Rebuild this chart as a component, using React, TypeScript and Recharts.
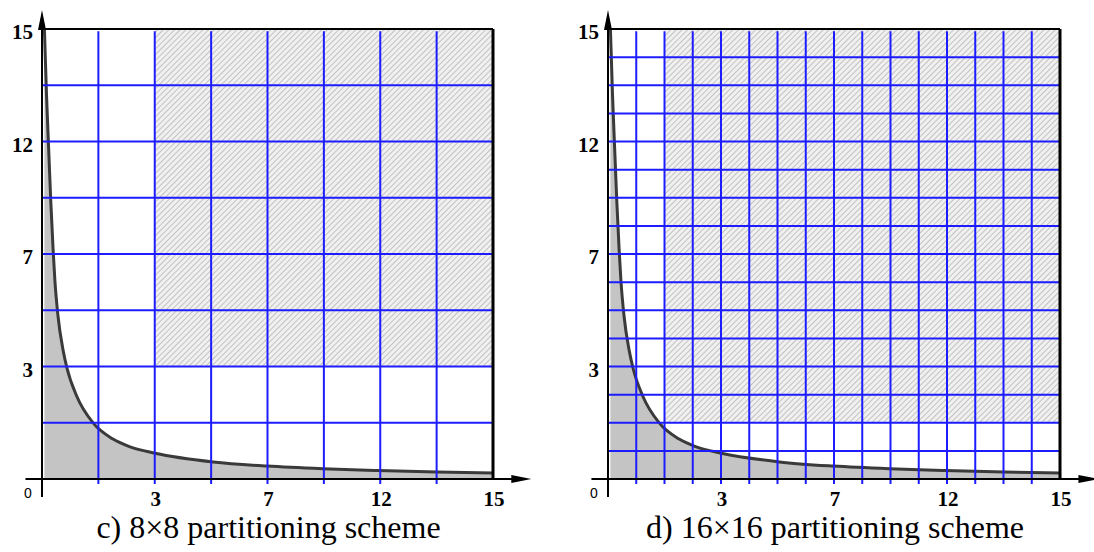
import React from 'react';
import { ComposedChart, Area, XAxis, YAxis, ReferenceLine, ReferenceArea } from 'recharts';

// ---- data ----
const axisMax = 15;
const curveX = [0.08, 0.15, 0.23, 0.29, 0.37, 0.43, 0.53, 0.7, 0.83, 1.16, 1.7, 2.36, 2.93, 3.76, 5.69, 7.48, 9.34, 11.17, 13.14, 15];
const curveY = [15, 12.8, 10.8, 9.3, 7.63, 6.6, 5.45, 4.3, 3.7, 2.75, 1.87, 1.33, 1.07, 0.86, 0.57, 0.43, 0.34, 0.28, 0.23, 0.2];
const xTickPositions = [0, 3.75, 7.5, 11.25, 15];
const xTickLabels = ['0', '3', '7', '12', '15'];
const yTickPositions = [3.75, 7.5, 11.25, 15];
const yTickLabels = ['3', '7', '12', '15'];
const partitionCounts = [8, 16];
const hatchStartCells = [2, 2];
const captions = ['c) 8×8 partitioning scheme', 'd) 16×16 partitioning scheme'];

const curveData = curveX.map((x, i) => ({ x, y: curveY[i] }));

// ---- layout ----
const PANEL_W = 547;
const H = 552;
const layouts = [
  { left: 0, marginLeft: 0, marginRight: 54 },
  { left: 547, marginLeft: 19, marginRight: 34 },
];
const Y_AXIS_W = 42;
const PLOT_TOP = 29;
const PLOT_BOTTOM = 479;
const X_AXIS_H = 30;

const BLUE = '#1c1cff';
const SERIF = 'Liberation Serif';
const SANS = 'Liberation Sans';

const XTick = (props: any) => {
  const { x, y, index } = props;
  if (index === 0) {
    return (
      <text x={x - 14} y={y + 19} textAnchor="middle" fontFamily={SANS} fontSize={14} fill="#000">
        {xTickLabels[0]}
      </text>
    );
  }
  return (
    <text x={x + 1} y={y + 27} textAnchor="middle" fontFamily={SERIF} fontWeight="bold" fontSize={21} fill="#000">
      {xTickLabels[index]}
    </text>
  );
};

const YTick = (props: any) => {
  const { x, y, index } = props;
  return (
    <text x={x - 9} y={y + 10} textAnchor="end" fontFamily={SERIF} fontWeight="bold" fontSize={21} fill="#000">
      {yTickLabels[index]}
    </text>
  );
};

const xArrow = (props: any) => {
  const { x1, y1, x2, y2 } = props;
  return (
    <g>
      <line x1={x1} y1={y1} x2={x2 - 8} y2={y2} stroke="#000" strokeWidth={2} />
      <polygon points={`${x2},${y2} ${x2 - 20},${y2 - 4} ${x2 - 20},${y2 + 4}`} fill="#000" />
    </g>
  );
};

const yArrow = (props: any) => {
  const { x1, y1, x2, y2 } = props;
  return (
    <g>
      <line x1={x1} y1={y1} x2={x2} y2={y2 + 8} stroke="#000" strokeWidth={2} />
      <polygon points={`${x2},${y2} ${x2 - 4},${y2 + 20} ${x2 + 4},${y2 + 20}`} fill="#000" />
    </g>
  );
};

const Panel = ({ idx }: { idx: number }) => {
  const n = partitionCounts[idx];
  const step = axisMax / n;
  const bounds = Array.from({ length: n - 1 }, (_, k) => (k + 1) * step);
  const hatchFrom = hatchStartCells[idx] * step;
  const lay = layouts[idx];
  const pid = `hatch${idx}`;
  return (
    <ComposedChart
      width={PANEL_W}
      height={H}
      data={curveData}
      margin={{ top: PLOT_TOP, right: lay.marginRight, bottom: H - PLOT_BOTTOM - X_AXIS_H, left: lay.marginLeft }}
      style={{ overflow: 'visible' }}
    >
      <defs>
        <pattern id={pid} patternUnits="userSpaceOnUse" width={4} height={4} patternTransform="rotate(45)">
          <rect x={0} y={0} width={4} height={4} fill="#f0f0f0" />
          <line x1={0} y1={0} x2={0} y2={4} stroke="#bdbdbd" strokeWidth={1.8} />
        </pattern>
      </defs>
      <XAxis
        type="number"
        dataKey="x"
        domain={[0, axisMax]}
        ticks={xTickPositions}
        interval={0}
        tick={XTick}
        tickSize={0}
        tickMargin={0}
        axisLine={false}
        tickLine={false}
        height={X_AXIS_H}
        allowDataOverflow
      />
      <YAxis
        type="number"
        domain={[0, axisMax]}
        ticks={yTickPositions}
        interval={0}
        tick={YTick}
        tickSize={0}
        tickMargin={0}
        axisLine={false}
        tickLine={false}
        width={Y_AXIS_W}
        allowDataOverflow
      />
      <ReferenceArea
        x1={hatchFrom}
        x2={axisMax}
        y1={hatchFrom}
        y2={axisMax}
        fill={`url(#${pid})`}
        fillOpacity={1}
        stroke="none"
        ifOverflow="visible"
      />
      <Area
        type="monotone"
        dataKey="y"
        stroke="#3a3a3a"
        strokeWidth={3}
        fill="#c4c4c4"
        fillOpacity={1}
        dot={false}
        activeDot={false}
        isAnimationActive={false}
      />
      {bounds.map((b) => (
        <ReferenceLine
          key={`v${b}`}
          segment={[{ x: b, y: -0.17 }, { x: b, y: axisMax * 0.995 }]}
          stroke={BLUE}
          strokeWidth={2}
          ifOverflow="visible"
        />
      ))}
      {bounds.map((b) => (
        <ReferenceLine key={`h${b}`} y={b} stroke={BLUE} strokeWidth={2} ifOverflow="visible" />
      ))}
      <ReferenceLine y={axisMax} stroke="#000" strokeWidth={2} ifOverflow="visible" />
      <ReferenceLine x={axisMax} stroke="#000" strokeWidth={3} ifOverflow="visible" />
      <ReferenceLine
        segment={[{ x: -0.55, y: 0 }, { x: axisMax * 1.085, y: 0 }]}
        ifOverflow="visible"
        shape={xArrow}
      />
      <ReferenceLine
        segment={[{ x: 0, y: -0.6 }, { x: 0, y: axisMax * 1.042 }]}
        ifOverflow="visible"
        shape={yArrow}
      />
    </ComposedChart>
  );
};

export default function App() {
  return (
    <div style={{ position: 'absolute', left: 0, top: 0, width: 1094, height: H, background: '#fff', overflow: 'hidden' }}>
      {layouts.map((lay, i) => (
        <div key={i} style={{ position: 'absolute', left: lay.left, top: 0, width: PANEL_W, height: H }}>
          <Panel idx={i} />
        </div>
      ))}
      <svg width={1094} height={H} style={{ position: 'absolute', left: 0, top: 0, pointerEvents: 'none' }}>
        {captions.map((c, i) => {
          const lay = layouts[i];
          const plotLeft = lay.left + lay.marginLeft + Y_AXIS_W;
          const plotRight = lay.left + PANEL_W - lay.marginRight;
          return (
            <text key={i} x={(plotLeft + plotRight) / 2 + 1} y={538} textAnchor="middle" fontFamily={SERIF} fontSize={32} fill="#000">
              {c}
            </text>
          );
        })}
      </svg>
    </div>
  );
}
